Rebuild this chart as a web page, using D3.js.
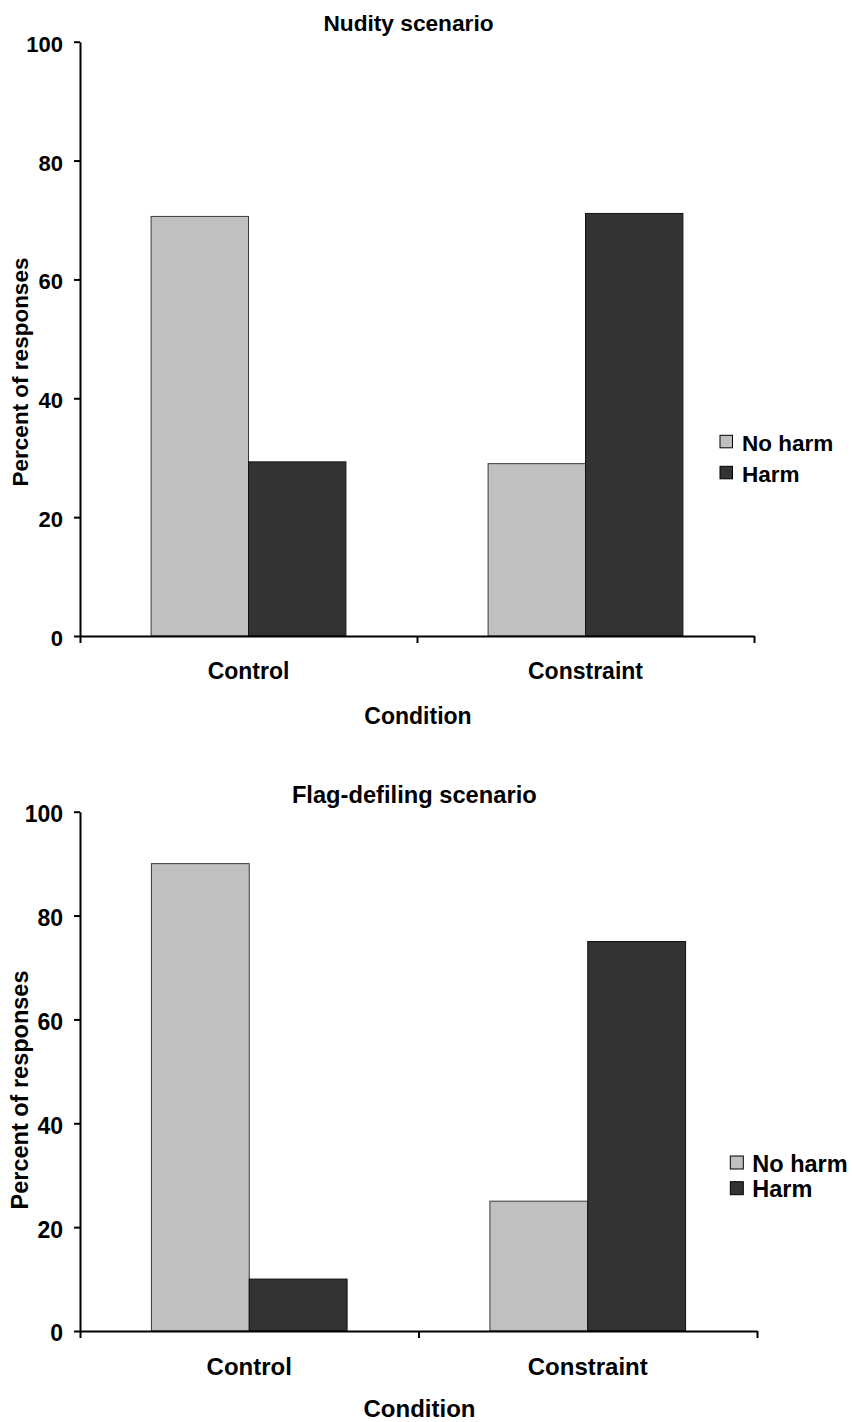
<!DOCTYPE html>
<html>
<head>
<meta charset="utf-8">
<script src="https://cdn.jsdelivr.net/npm/d3@7"></script>
<style>
  html, body { margin: 0; padding: 0; background: #fff; }
  svg { display: block; }
  text { font-family: "Liberation Sans", Arial, Helvetica, sans-serif; font-weight: bold; fill: #000; }
</style>
</head>
<body>
<svg id="chart" width="852" height="1422"></svg>
<script>
// ---- Data ----
const categories = ["Control", "Constraint"];
const seriesNames = ["No harm", "Harm"];
const seriesColors = ["#c0c0c0", "#333333"];
const yTicks = [0, 20, 40, 60, 80, 100];

const nudityTitle = "Nudity scenario";
const nudityNoHarm = [70.6, 29.0];
const nudityHarm = [29.3, 71.1];

const flagTitle = "Flag-defiling scenario";
const flagNoHarm = [90, 25];
const flagHarm = [10, 75];

const yLabel = "Percent of responses";
const xLabel = "Condition";

// ---- Layout (per panel) ----
const panels = [
  {
    title: nudityTitle, values: [nudityNoHarm, nudityHarm],
    x0: 80, x1: 754, yBottom: 636, yTop: 41.7,
    font: 23, digitFont: 22,
    titleX: 408.5, titleY: 30.7,
    yLabelX: 27.5, yLabelY: 372,
    catDy: 43, condDy: 87.5,
    legX: 720, legY: 435.3, legStep: 31, legSq: 12.5
  },
  {
    title: flagTitle, values: [flagNoHarm, flagHarm],
    x0: 80, x1: 757, yBottom: 1331, yTop: 811.7,
    font: 24, digitFont: 23,
    titleX: 414.3, titleY: 802.7,
    yLabelX: 27.5, yLabelY: 1090,
    catDy: 44, condDy: 85.5,
    legX: 730.3, legY: 1156, legStep: 25.7, legSq: 13
  }
];

const svg = d3.select("#chart");
svg.append("rect").attr("width", 852).attr("height", 1422).attr("fill", "#fff");

panels.forEach(p => {
  const g = svg.append("g");

  const y = d3.scaleLinear().domain([0, 100]).range([p.yBottom, p.yTop]);
  const x = d3.scaleBand().domain(categories).range([p.x0, p.x1]).padding(0);
  const x1 = d3.scaleBand().domain(seriesNames).range([0, x.bandwidth()])
    .paddingInner(0).paddingOuter(0.73);
  const xb = d3.scaleLinear().domain([0, categories.length]).range([p.x0, p.x1]);

  // Bars
  categories.forEach((c, ci) => {
    seriesNames.forEach((s, si) => {
      const v = p.values[si][ci];
      g.append("rect")
        .attr("x", x(c) + x1(s))
        .attr("y", y(v))
        .attr("width", x1.bandwidth())
        .attr("height", y(0) - y(v))
        .attr("fill", seriesColors[si])
        .attr("stroke", si === 0 ? "#3a3a3a" : "#111")
        .attr("stroke-width", 1);
    });
  });

  // Y axis
  const yAxis = g.append("g")
    .attr("transform", `translate(${p.x0},0)`)
    .call(d3.axisLeft(y).tickValues(yTicks).tickSize(6).tickSizeOuter(0).tickPadding(11));
  yAxis.select(".domain").attr("stroke", "#000").attr("stroke-width", 2);
  yAxis.selectAll(".tick line").attr("stroke", "#000").attr("stroke-width", 2);
  yAxis.selectAll(".tick text")
    .attr("dy", "0.43em")
    .style("font-size", p.digitFont + "px")
    .style("font-family", '"Liberation Sans", Arial, sans-serif')
    .style("font-weight", "bold")
    .attr("fill", "#000");

  // X axis line with boundary ticks
  const xAxis = g.append("g")
    .attr("transform", `translate(0,${p.yBottom})`)
    .call(d3.axisBottom(xb).tickValues(d3.range(categories.length + 1)).tickSize(7).tickSizeOuter(0).tickFormat(""));
  xAxis.select(".domain").attr("stroke", "#000").attr("stroke-width", 2);
  xAxis.selectAll(".tick line").attr("stroke", "#000").attr("stroke-width", 2);

  // Category labels
  const catAxis = g.append("g")
    .attr("transform", `translate(0,${p.yBottom})`)
    .call(d3.axisBottom(x).tickSize(0));
  catAxis.select(".domain").remove();
  catAxis.selectAll(".tick text")
    .attr("y", p.catDy).attr("dy", 0)
    .style("font-size", p.font + "px")
    .style("font-family", '"Liberation Sans", Arial, sans-serif')
    .style("font-weight", "bold")
    .attr("fill", "#000");

  // Title
  g.append("text")
    .attr("x", p.titleX).attr("y", p.titleY)
    .attr("text-anchor", "middle")
    .style("font-size", (p.font - 0.3) + "px")
    .text(p.title);

  // Axis titles
  g.append("text")
    .attr("x", (p.x0 + p.x1) / 2 + 1).attr("y", p.yBottom + p.condDy)
    .attr("text-anchor", "middle")
    .style("font-size", p.font + "px")
    .text(xLabel);

  g.append("text")
    .attr("transform", `translate(${p.yLabelX},${p.yLabelY}) rotate(-90)`)
    .attr("text-anchor", "middle")
    .style("font-size", (p.font - 0.5) + "px")
    .text(yLabel);

  // Legend
  const leg = g.append("g");
  seriesNames.forEach((s, si) => {
    const ly = p.legY + si * p.legStep;
    leg.append("rect")
      .attr("x", p.legX).attr("y", ly)
      .attr("width", p.legSq).attr("height", p.legSq)
      .attr("fill", seriesColors[si])
      .attr("stroke", "#000").attr("stroke-width", 1);
    leg.append("text")
      .attr("x", p.legX + 22).attr("y", ly + 15.5)
      .style("font-size", (p.font - 0.5) + "px")
      .text(s);
  });
});
</script>
</body>
</html>
